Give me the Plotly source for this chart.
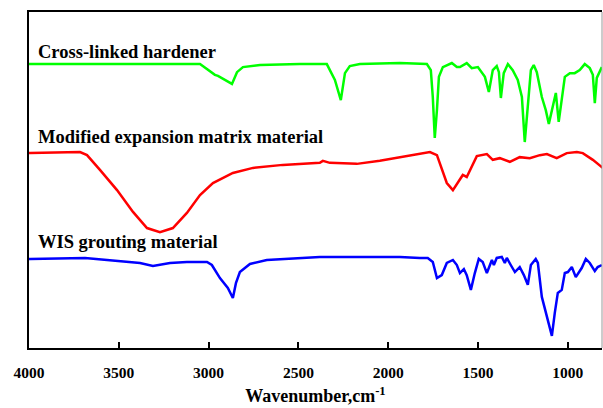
import plotly.graph_objects as go

# Cross-linked hardener (green)
wn_hardener = [4000, 3700, 3300, 3048, 2965, 2948, 2870, 2842, 2809, 2714, 2492, 2342, 2297, 2264, 2241,
               2214, 2158, 1935, 1785, 1763, 1752, 1741, 1729, 1718, 1696, 1646, 1618, 1601, 1563, 1535,
               1501, 1462, 1440, 1418, 1396, 1384, 1373, 1357, 1334, 1307, 1279, 1256, 1240, 1223, 1206,
               1190, 1173, 1145, 1123, 1106, 1084, 1067, 1051, 1028, 1017, 989, 962, 934, 906, 878, 861,
               850, 845, 839, 811]
t_hardener = [84.5, 84.5, 84.5, 84.5, 81.3, 81.0, 78.6, 82.1, 83.6, 84.2, 84.5, 84.5, 79.8, 73.8, 81.8,
              83.9, 84.5, 84.8, 84.5, 82.7, 74.7, 62.5, 70.8, 80.7, 83.6, 84.8, 83.6, 83.6, 84.8, 83.3,
              83.6, 80.7, 76.2, 82.7, 83.9, 82.1, 74.4, 81.8, 84.5, 82.7, 79.8, 74.7, 61.3, 71.7, 82.7,
              84.2, 82.1, 74.7, 70.8, 66.7, 71.7, 75.9, 67.3, 75.9, 80.7, 81.8, 81.8, 82.7, 84.5, 83.3,
              81.3, 72.9, 78.0, 80.4, 83.6]

# Modified expansion matrix material (red)
wn_matrix = [4000, 3994, 3716, 3677, 3605, 3510, 3421, 3343, 3271, 3199, 3121, 3048, 2976, 2865, 2753,
             2587, 2381, 2364, 2325, 2175, 2047, 1919, 1768, 1729, 1702, 1674, 1640, 1613, 1585, 1563,
             1540, 1507, 1451, 1418, 1379, 1323, 1268, 1212, 1156, 1117, 1062, 1006, 950, 917, 861, 806]
t_matrix = [58.0, 58.0, 58.3, 57.4, 53.0, 47.0, 40.5, 35.7, 34.5, 35.7, 40.2, 45.5, 49.1, 52.1, 53.6,
            54.5, 55.1, 55.7, 55.1, 54.8, 55.7, 56.8, 58.3, 57.4, 53.6, 49.1, 47.0, 49.4, 51.5, 50.9,
            53.6, 57.1, 57.7, 56.0, 56.5, 55.4, 56.8, 56.5, 57.4, 57.7, 56.5, 58.0, 58.3, 58.0, 56.0, 53.6]

# WIS grouting material (blue)
wn_wis = [4000, 3994, 3688, 3505, 3382, 3310, 3215, 3121, 3009, 2982, 2937, 2893, 2865, 2848, 2826,
          2770, 2676, 2381, 2197, 2008, 1935, 1824, 1780, 1752, 1729, 1702, 1674, 1640, 1618, 1601,
          1579, 1563, 1540, 1518, 1496, 1474, 1451, 1423, 1412, 1396, 1368, 1351, 1340, 1318, 1295,
          1268, 1245, 1223, 1206, 1179, 1167, 1145, 1117, 1089, 1073, 1056, 1034, 1017, 1000, 978,
          956, 923, 900, 878, 850, 834, 811]
t_wis = [26.5, 26.5, 26.8, 25.9, 25.3, 24.4, 25.3, 25.6, 25.6, 24.7, 20.8, 17.9, 14.9, 19.3, 22.6,
         25.0, 26.2, 27.1, 27.1, 27.1, 27.1, 26.8, 26.8, 25.6, 20.8, 21.7, 25.3, 26.2, 24.7, 22.3,
         23.5, 21.7, 17.3, 22.3, 26.5, 25.6, 22.3, 26.2, 24.7, 26.8, 27.1, 25.3, 26.8, 24.7, 22.6,
         24.1, 21.7, 18.8, 24.7, 26.5, 25.3, 15.2, 9.2, 3.6, 10.4, 16.4, 17.3, 22.3, 22.6, 24.1,
         21.1, 23.8, 26.5, 25.3, 22.9, 24.1, 24.7]

labels = ["Cross-linked hardener", "Modified expansion matrix material", "WIS grouting material"]
label_y = [52, 137, 242]  # pixel rows of label centres

x_ticks = [4000, 3500, 3000, 2500, 2000, 1500, 1000]

SERIF = "Times New Roman, Liberation Serif, serif"

fig = go.Figure()
fig.add_trace(go.Scatter(x=wn_hardener, y=t_hardener, mode="lines",
                         line=dict(color="#00ff00", width=2.5), showlegend=False))
fig.add_trace(go.Scatter(x=wn_matrix, y=t_matrix, mode="lines",
                         line=dict(color="#ff0000", width=2.5), showlegend=False))
fig.add_trace(go.Scatter(x=wn_wis, y=t_wis, mode="lines",
                         line=dict(color="#0000ff", width=2.5), showlegend=False))

W, H = 603, 408
ml, mr, mt, mb = 29, 1, 12, 60
ph = H - mt - mb
for lab, ly in zip(labels, label_y):
    fig.add_annotation(text="<b>" + lab + "</b>", xref="paper", yref="paper",
                       x=(36 - ml) / (W - ml - mr), y=(H - mb - ly) / ph,
                       xanchor="left", yanchor="middle", showarrow=False,
                       font=dict(family=SERIF, size=18.5, color="black"))

fig.add_shape(type="line", xref="paper", yref="paper", x0=1, x1=1, y0=0, y1=1,
              line=dict(color="#999999", width=1))

fig.update_layout(
    width=W, height=H, margin=dict(l=ml, r=mr, t=mt, b=mb),
    paper_bgcolor="white", plot_bgcolor="white",
    font=dict(family=SERIF),
    xaxis=dict(range=[4000, 810], tickvals=x_ticks, ticks="inside", ticklen=6, tickwidth=1.5,
               tickcolor="black", showline=True, mirror=True, linecolor="black", linewidth=2,
               showgrid=False, zeroline=False, ticklabelstandoff=9,
               tickfont=dict(family=SERIF, size=15.5, color="black", weight="bold"),
               title=dict(text="<b>Wavenumber,cm<sup>-1</sup></b>", standoff=10,
                          font=dict(family=SERIF, size=18, color="black"))),
    yaxis=dict(range=[0, 100], showticklabels=False, ticks="", showline=True,
               linecolor="black", linewidth=2, showgrid=False, zeroline=False),
)

fig.write_html("out.html")
